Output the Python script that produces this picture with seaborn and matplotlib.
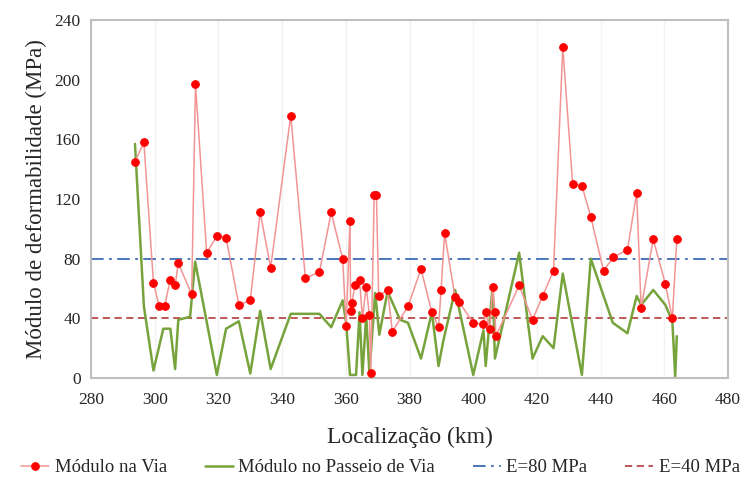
import numpy as np
import pandas as pd
import matplotlib
matplotlib.use("Agg")
import matplotlib.pyplot as plt
import seaborn as sns

# módulo na via (km, MPa)
via_km = [293.8, 296.6, 299.6, 301.4, 303.1, 304.9, 306.4, 307.4, 311.6, 312.8,
          316.3, 319.5, 322.4, 326.4, 330.0, 333.1, 336.4, 342.7, 347.3, 351.7,
          355.4, 359.0, 360.1, 361.3, 361.5, 361.8, 362.9, 364.3, 365.2, 366.4,
          367.4, 367.8, 368.9, 369.6, 370.3, 373.1, 374.6, 379.5, 383.6, 387.0,
          389.1, 389.9, 391.0, 394.3, 395.6, 399.9, 403.2, 403.9, 405.2, 406.1,
          406.8, 407.1, 414.4, 418.6, 421.8, 425.2, 428.1, 431.2, 434.1, 436.9,
          440.9, 444.0, 448.4, 451.3, 452.7, 456.5, 460.3, 462.5, 463.9]
via_mpa = [145, 158, 64, 48, 48, 66, 62, 77, 56, 197,
           84, 95, 94, 49, 52, 111, 74, 176, 67, 71,
           111, 80, 35, 105, 45, 50, 62, 66, 40, 61,
           42, 3, 123, 123, 55, 59, 31, 48, 73, 44,
           34, 59, 97, 54, 51, 37, 36, 44, 33, 61,
           44, 28, 62, 39, 55, 72, 222, 130, 129, 108,
           72, 81, 86, 124, 47, 93, 63, 40, 93]

# módulo no passeio de via
passeio_km = [293.8, 296.6, 299.6, 302.7, 304.9, 306.4, 307.4, 311.1, 312.7, 319.5,
              322.4, 326.4, 330.0, 333.1, 336.4, 342.7, 351.7, 355.4, 359.0, 360.1,
              361.3, 363.2, 364.3, 365.2, 366.4, 367.4, 369.2, 370.5, 373.1, 377.0,
              379.5, 383.6, 387.0, 389.1, 390.6, 394.3, 400.0, 403.2, 403.9, 406.1,
              406.8, 414.4, 418.6, 421.8, 425.2, 428.1, 434.1, 436.9, 443.8, 448.4,
              451.3, 452.7, 456.5, 460.3, 462.5, 463.4, 463.9]
passeio_mpa = [157, 48, 5, 33, 33, 6, 39, 41, 78, 2,
               33, 38, 3, 45, 6, 43, 43, 34, 52, 37,
               2, 2, 44, 2, 42, 3, 57, 29, 58, 39,
               37, 13, 44, 8, 25, 59, 2, 32, 8, 62,
               13, 84, 13, 28, 20, 70, 2, 80, 37, 30,
               55, 49, 59, 49, 38, 1, 28]

ref_80 = 80
ref_40 = 40
x_ticks = list(range(280, 481, 20))
y_ticks = list(range(0, 241, 40))

sns.set_style("white")
plt.rcParams["font.family"] = ["Liberation Serif", "DejaVu Serif"]

df_via = pd.DataFrame({"km": via_km, "mpa": via_mpa})
df_pas = pd.DataFrame({"km": passeio_km, "mpa": passeio_mpa})

fig, ax = plt.subplots(figsize=(7.46, 4.79), dpi=100)
fig.subplots_adjust(left=0.122, right=0.976, top=0.958, bottom=0.211)

ax.set_xticks(x_ticks)
ax.grid(axis="x", color="#f2f2f2", lw=1.0)
ax.set_axisbelow(True)

sns.lineplot(data=df_via, x="km", y="mpa", sort=False, estimator=None, ax=ax,
             color="#f29494", lw=1.1, marker="o", markersize=5.5,
             markerfacecolor="#ff0000", markeredgecolor="#ff0000",
             label="Módulo na Via", zorder=3)
sns.lineplot(data=df_pas, x="km", y="mpa", sort=False, estimator=None, ax=ax,
             color="#77a33c", lw=1.8, label="Módulo no Passeio de Via", zorder=2)
ax.axhline(ref_80, color="#3c6bb4", lw=1.3, ls=(0, (7, 3, 1.5, 3)), label="E=80 MPa", zorder=1)
ax.axhline(ref_40, color="#b94a48", lw=1.3, ls=(0, (4, 2.5)), label="E=40 MPa", zorder=1)

ax.set_xlim(280, 480)
ax.set_ylim(0, 240)
ax.set_yticks(y_ticks)
ax.set_xlabel("Localização (km)", fontsize=17, labelpad=14)
ax.set_ylabel("Módulo de deformabilidade (MPa)", fontsize=16.5, labelpad=5)
ax.tick_params(axis="both", labelsize=12.5, length=4, color="#bfbfbf", direction="out")
ax.tick_params(axis="x", pad=6)
for s in ax.spines.values():
    s.set_color("#bfbfbf")
    s.set_linewidth(1.5)

ax.get_legend().remove()
handles, labels = ax.get_legend_handles_labels()
fig.legend(handles, labels, loc="lower center", bbox_to_anchor=(0.51, -0.03), ncol=4,
           frameon=False, fontsize=13.5, handlelength=1.5, columnspacing=2.0,
           handletextpad=0.3)

fig.savefig("out.png", dpi=100)
